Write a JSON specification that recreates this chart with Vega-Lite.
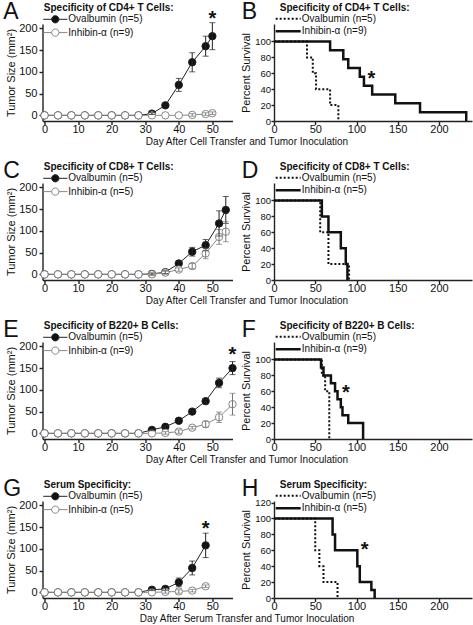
{
"$schema":"https://vega.github.io/schema/vega-lite/v6.json",
"background":"white",
"padding":{"left":2.5,"top":0,"right":0,"bottom":0},
"bounds":"flush",
"columns":2,
"spacing":{"row":62,"column":41.5},
"resolve":{"scale":{"x":"independent","y":"independent","fill":"independent","stroke":"independent","color":"independent","strokeDash":"independent","strokeWidth":"independent"}},
"datasets":{
"tA":[
{"g":"Ovalbumin (n=5)","day":0,"tumor":0},{"g":"Ovalbumin (n=5)","day":4,"tumor":0},{"g":"Ovalbumin (n=5)","day":8,"tumor":0},{"g":"Ovalbumin (n=5)","day":12,"tumor":0},{"g":"Ovalbumin (n=5)","day":16,"tumor":0},{"g":"Ovalbumin (n=5)","day":20,"tumor":0},{"g":"Ovalbumin (n=5)","day":24,"tumor":0},{"g":"Ovalbumin (n=5)","day":28,"tumor":0},
{"g":"Ovalbumin (n=5)","day":32,"tumor":4,"err":2},{"g":"Ovalbumin (n=5)","day":36,"tumor":23,"err":3},{"g":"Ovalbumin (n=5)","day":40,"tumor":70,"err":15},{"g":"Ovalbumin (n=5)","day":44,"tumor":122,"err":22},{"g":"Ovalbumin (n=5)","day":48,"tumor":159,"err":23},{"g":"Ovalbumin (n=5)","day":50,"tumor":182,"err":31},
{"g":"Inhibin-α (n=9)","day":0,"tumor":0},{"g":"Inhibin-α (n=9)","day":4,"tumor":0},{"g":"Inhibin-α (n=9)","day":8,"tumor":0},{"g":"Inhibin-α (n=9)","day":12,"tumor":0},{"g":"Inhibin-α (n=9)","day":16,"tumor":0},{"g":"Inhibin-α (n=9)","day":20,"tumor":0},{"g":"Inhibin-α (n=9)","day":24,"tumor":0},{"g":"Inhibin-α (n=9)","day":28,"tumor":0},{"g":"Inhibin-α (n=9)","day":32,"tumor":0},{"g":"Inhibin-α (n=9)","day":36,"tumor":0},{"g":"Inhibin-α (n=9)","day":40,"tumor":0},
{"g":"Inhibin-α (n=9)","day":44,"tumor":1,"err":3},{"g":"Inhibin-α (n=9)","day":48,"tumor":3,"err":3},{"g":"Inhibin-α (n=9)","day":50,"tumor":5,"err":3}
],
"tC":[
{"g":"Ovalbumin (n=5)","day":0,"tumor":0},{"g":"Ovalbumin (n=5)","day":4,"tumor":0},{"g":"Ovalbumin (n=5)","day":8,"tumor":0},{"g":"Ovalbumin (n=5)","day":12,"tumor":0},{"g":"Ovalbumin (n=5)","day":16,"tumor":0},{"g":"Ovalbumin (n=5)","day":20,"tumor":0},{"g":"Ovalbumin (n=5)","day":24,"tumor":0},{"g":"Ovalbumin (n=5)","day":28,"tumor":0},
{"g":"Ovalbumin (n=5)","day":32,"tumor":1,"err":2},{"g":"Ovalbumin (n=5)","day":36,"tumor":5,"err":3},{"g":"Ovalbumin (n=5)","day":40,"tumor":25,"err":4},{"g":"Ovalbumin (n=5)","day":44,"tumor":52,"err":10},{"g":"Ovalbumin (n=5)","day":48,"tumor":67,"err":13},{"g":"Ovalbumin (n=5)","day":52,"tumor":117,"err":29},{"g":"Ovalbumin (n=5)","day":54,"tumor":148,"err":31},
{"g":"Inhibin-α (n=5)","day":0,"tumor":0},{"g":"Inhibin-α (n=5)","day":4,"tumor":0},{"g":"Inhibin-α (n=5)","day":8,"tumor":0},{"g":"Inhibin-α (n=5)","day":12,"tumor":0},{"g":"Inhibin-α (n=5)","day":16,"tumor":0},{"g":"Inhibin-α (n=5)","day":20,"tumor":0},{"g":"Inhibin-α (n=5)","day":24,"tumor":0},{"g":"Inhibin-α (n=5)","day":28,"tumor":0},
{"g":"Inhibin-α (n=5)","day":32,"tumor":0,"err":3},{"g":"Inhibin-α (n=5)","day":36,"tumor":4,"err":4},{"g":"Inhibin-α (n=5)","day":40,"tumor":11,"err":4},{"g":"Inhibin-α (n=5)","day":44,"tumor":19,"err":6},{"g":"Inhibin-α (n=5)","day":48,"tumor":48,"err":12},{"g":"Inhibin-α (n=5)","day":52,"tumor":86,"err":17},{"g":"Inhibin-α (n=5)","day":54,"tumor":98,"err":23}
],
"tE":[
{"g":"Ovalbumin (n=5)","day":0,"tumor":0},{"g":"Ovalbumin (n=5)","day":4,"tumor":0},{"g":"Ovalbumin (n=5)","day":8,"tumor":0},{"g":"Ovalbumin (n=5)","day":12,"tumor":0},{"g":"Ovalbumin (n=5)","day":16,"tumor":0},{"g":"Ovalbumin (n=5)","day":20,"tumor":0},{"g":"Ovalbumin (n=5)","day":24,"tumor":0},{"g":"Ovalbumin (n=5)","day":28,"tumor":0},
{"g":"Ovalbumin (n=5)","day":32,"tumor":8,"err":2},{"g":"Ovalbumin (n=5)","day":36,"tumor":15,"err":3},{"g":"Ovalbumin (n=5)","day":40,"tumor":29,"err":3},{"g":"Ovalbumin (n=5)","day":44,"tumor":50,"err":3},{"g":"Ovalbumin (n=5)","day":48,"tumor":74,"err":4},{"g":"Ovalbumin (n=5)","day":52,"tumor":116,"err":11},{"g":"Ovalbumin (n=5)","day":56,"tumor":150,"err":15},
{"g":"Inhibin-α (n=9)","day":0,"tumor":0},{"g":"Inhibin-α (n=9)","day":4,"tumor":0},{"g":"Inhibin-α (n=9)","day":8,"tumor":0},{"g":"Inhibin-α (n=9)","day":12,"tumor":0},{"g":"Inhibin-α (n=9)","day":16,"tumor":0},{"g":"Inhibin-α (n=9)","day":20,"tumor":0},{"g":"Inhibin-α (n=9)","day":24,"tumor":0},{"g":"Inhibin-α (n=9)","day":28,"tumor":0},{"g":"Inhibin-α (n=9)","day":32,"tumor":0},
{"g":"Inhibin-α (n=9)","day":36,"tumor":1,"err":3},{"g":"Inhibin-α (n=9)","day":40,"tumor":4,"err":4},{"g":"Inhibin-α (n=9)","day":44,"tumor":13,"err":3},{"g":"Inhibin-α (n=9)","day":48,"tumor":21,"err":7},{"g":"Inhibin-α (n=9)","day":52,"tumor":37,"err":12},{"g":"Inhibin-α (n=9)","day":56,"tumor":67,"err":25}
],
"tG":[
{"g":"Ovalbumin (n=5)","day":0,"tumor":0},{"g":"Ovalbumin (n=5)","day":4,"tumor":0},{"g":"Ovalbumin (n=5)","day":8,"tumor":0},{"g":"Ovalbumin (n=5)","day":12,"tumor":0},{"g":"Ovalbumin (n=5)","day":16,"tumor":0},{"g":"Ovalbumin (n=5)","day":20,"tumor":0},{"g":"Ovalbumin (n=5)","day":24,"tumor":0},{"g":"Ovalbumin (n=5)","day":28,"tumor":0},
{"g":"Ovalbumin (n=5)","day":32,"tumor":6,"err":2},{"g":"Ovalbumin (n=5)","day":36,"tumor":8,"err":3},{"g":"Ovalbumin (n=5)","day":40,"tumor":23,"err":10},{"g":"Ovalbumin (n=5)","day":44,"tumor":56,"err":16},{"g":"Ovalbumin (n=5)","day":48,"tumor":108,"err":28},
{"g":"Inhibin-α (n=5)","day":0,"tumor":0},{"g":"Inhibin-α (n=5)","day":4,"tumor":0},{"g":"Inhibin-α (n=5)","day":8,"tumor":0},{"g":"Inhibin-α (n=5)","day":12,"tumor":0},{"g":"Inhibin-α (n=5)","day":16,"tumor":0},{"g":"Inhibin-α (n=5)","day":20,"tumor":0},{"g":"Inhibin-α (n=5)","day":24,"tumor":0},{"g":"Inhibin-α (n=5)","day":28,"tumor":0},{"g":"Inhibin-α (n=5)","day":32,"tumor":0},
{"g":"Inhibin-α (n=5)","day":36,"tumor":1,"err":3},{"g":"Inhibin-α (n=5)","day":40,"tumor":2,"err":4},{"g":"Inhibin-α (n=5)","day":44,"tumor":4,"err":3},{"g":"Inhibin-α (n=5)","day":48,"tumor":14,"err":3}
],
"kB":[
{"g":"Ovalbumin (n=5)","day":0,"pct":100},{"g":"Ovalbumin (n=5)","day":40,"pct":80},{"g":"Ovalbumin (n=5)","day":47,"pct":60},{"g":"Ovalbumin (n=5)","day":51,"pct":40},{"g":"Ovalbumin (n=5)","day":68,"pct":20},{"g":"Ovalbumin (n=5)","day":78,"pct":0},
{"g":"Inhibin-α (n=9)","day":0,"pct":100},{"g":"Inhibin-α (n=9)","day":68,"pct":88.9},{"g":"Inhibin-α (n=9)","day":84,"pct":77.8},{"g":"Inhibin-α (n=9)","day":90,"pct":66.7},{"g":"Inhibin-α (n=9)","day":104,"pct":55.6},{"g":"Inhibin-α (n=9)","day":109,"pct":44.4},{"g":"Inhibin-α (n=9)","day":119,"pct":33.3},{"g":"Inhibin-α (n=9)","day":147,"pct":22.2},{"g":"Inhibin-α (n=9)","day":177,"pct":11.1},{"g":"Inhibin-α (n=9)","day":233,"pct":0}
],
"kD":[
{"g":"Ovalbumin (n=5)","day":0,"pct":100},{"g":"Ovalbumin (n=5)","day":56,"pct":60},{"g":"Ovalbumin (n=5)","day":66,"pct":20},{"g":"Ovalbumin (n=5)","day":91,"pct":0},
{"g":"Inhibin-α (n=5)","day":0,"pct":100},{"g":"Inhibin-α (n=5)","day":58,"pct":80},{"g":"Inhibin-α (n=5)","day":66,"pct":60},{"g":"Inhibin-α (n=5)","day":81,"pct":40},{"g":"Inhibin-α (n=5)","day":87,"pct":20},{"g":"Inhibin-α (n=5)","day":89,"pct":0}
],
"kF":[
{"g":"Ovalbumin (n=5)","day":0,"pct":100},{"g":"Ovalbumin (n=5)","day":58,"pct":80},{"g":"Ovalbumin (n=5)","day":62,"pct":60},{"g":"Ovalbumin (n=5)","day":67,"pct":0},
{"g":"Inhibin-α (n=9)","day":0,"pct":100},{"g":"Inhibin-α (n=9)","day":57,"pct":90},{"g":"Inhibin-α (n=9)","day":60,"pct":80},{"g":"Inhibin-α (n=9)","day":69,"pct":70},{"g":"Inhibin-α (n=9)","day":74,"pct":60},{"g":"Inhibin-α (n=9)","day":77,"pct":50},{"g":"Inhibin-α (n=9)","day":81,"pct":40},{"g":"Inhibin-α (n=9)","day":83,"pct":30},{"g":"Inhibin-α (n=9)","day":90,"pct":20},{"g":"Inhibin-α (n=9)","day":108,"pct":0}
],
"kH":[
{"g":"Ovalbumin (n=5)","day":0,"pct":100},{"g":"Ovalbumin (n=5)","day":50,"pct":60},{"g":"Ovalbumin (n=5)","day":55,"pct":40},{"g":"Ovalbumin (n=5)","day":60,"pct":20},{"g":"Ovalbumin (n=5)","day":77,"pct":0},
{"g":"Inhibin-α (n=5)","day":0,"pct":100},{"g":"Inhibin-α (n=5)","day":71,"pct":80},{"g":"Inhibin-α (n=5)","day":74,"pct":60},{"g":"Inhibin-α (n=5)","day":101,"pct":40},{"g":"Inhibin-α (n=5)","day":104,"pct":20},{"g":"Inhibin-α (n=5)","day":118,"pct":10},{"g":"Inhibin-α (n=5)","day":122,"pct":0}
],
"sA":[{"day":50,"tumor":229}],
"sB":[{"day":118,"pct":57}],
"sE":[{"day":56,"tumor":188}],
"sF":[{"day":87,"pct":62}],
"sG":[{"day":48,"tumor":152}],
"sH":[{"day":110,"pct":64}]
},
"concat":[
{"width":190,"height":97,
"title":{"text":"A","anchor":"start","frame":"bounds","fontSize":23,"fontWeight":"normal","offset":-20.7,"dx":-2,"color":"#111"},
"data":{"name":"tA"},
"encoding":{
"x":{"field":"day","type":"quantitative","scale":{"domain":[-0.6,56],"nice":false,"zero":false},"axis":{"values":[0,10,20,30,40,50],"labelPadding":-1,"title":"Day After Cell Transfer and Tumor Inoculation","titleX":204,"titleAlign":"center","titlePadding":2,"titleFontSize":10}},
"y":{"field":"tumor","type":"quantitative","scale":{"domain":[-13,210],"nice":false,"zero":false},"axis":{"values":[0,50,100,150,200],"title":"Tumor Size (mm²)","titlePadding":2.5}}},
"layer":[
{"mark":{"type":"line","strokeWidth":1},"encoding":{"stroke":{"field":"g","type":"nominal","scale":{"domain":["Ovalbumin (n=5)","Inhibin-α (n=9)"],"range":["#222","#888"]},"legend":{"title":"Specificity of CD4+ T Cells:","orient":"none","legendX":1.3,"legendY":-20.7,"symbolType":"M-1.2,0L0.34,0M1.66,0L3.2,0M1.66,0A0.66,0.66,0,1,1,0.34,0A0.66,0.66,0,1,1,1.66,0Z","symbolSize":121,"labelOffset":12.5,"rowPadding":1.3,"titlePadding":0}}}},
{"mark":{"type":"point","shape":"circle","filled":true,"size":55,"opacity":1,"strokeWidth":1},"encoding":{"fill":{"field":"g","type":"nominal","scale":{"domain":["Ovalbumin (n=5)","Inhibin-α (n=9)"],"range":["#111","white"]},"legend":{"title":"Specificity of CD4+ T Cells:","orient":"none","legendX":1.3,"legendY":-20.7,"symbolType":"M-1.2,0L0.34,0M1.66,0L3.2,0M1.66,0A0.66,0.66,0,1,1,0.34,0A0.66,0.66,0,1,1,1.66,0Z","symbolSize":121,"labelOffset":12.5,"rowPadding":1.3,"titlePadding":0}},"stroke":{"field":"g","type":"nominal","scale":{"domain":["Ovalbumin (n=5)","Inhibin-α (n=9)"],"range":["#222","#888"]},"legend":{"title":"Specificity of CD4+ T Cells:","orient":"none","legendX":1.3,"legendY":-20.7,"symbolType":"M-1.2,0L0.34,0M1.66,0L3.2,0M1.66,0A0.66,0.66,0,1,1,0.34,0A0.66,0.66,0,1,1,1.66,0Z","symbolSize":121,"labelOffset":12.5,"rowPadding":1.3,"titlePadding":0}}}},
{"transform":[{"filter":"datum.err > 0"}],"mark":{"type":"errorbar","ticks":{"size":6},"thickness":1},"encoding":{"yError":{"field":"err"},"color":{"field":"g","type":"nominal","scale":{"domain":["Ovalbumin (n=5)","Inhibin-α (n=9)"],"range":["#222","#777"]},"legend":null}}},
{"data":{"name":"sA"},"mark":{"type":"text","text":"*","fontSize":20,"fontWeight":"bold","baseline":"middle","dy":3,"color":"#111"}}
]},
{"width":198,"height":97,
"title":{"text":"B","anchor":"start","frame":"bounds","fontSize":23,"fontWeight":"normal","offset":-20.7,"dx":1,"color":"#111"},
"data":{"name":"kB"},
"encoding":{
"x":{"field":"day","type":"quantitative","scale":{"domain":[0,240],"nice":false},"axis":{"values":[0,50,100,150,200],"labelPadding":-1,"title":null}},
"y":{"field":"pct","type":"quantitative","scale":{"domain":[0,122],"nice":false},"axis":{"values":[0,20,40,60,80,100],"title":"Percent Survival","titlePadding":3,"tickSize":3,"labelPadding":0.5,"labelFontSize":9.5}}},
"layer":[
{"mark":{"type":"line","interpolate":"step-after","color":"#111"},"encoding":{"strokeDash":{"field":"g","type":"nominal","scale":{"domain":["Ovalbumin (n=5)","Inhibin-α (n=9)"],"range":[[2,2],[1,0]]},"legend":{"title":"Specificity of CD4+ T Cells:","orient":"none","legendX":5.8,"legendY":-20.7,"symbolType":"M-2.02,0L2.52,0","symbolSize":121,"labelOffset":8,"rowPadding":0,"titlePadding":-1,"symbolStrokeColor":"#111"}},"strokeWidth":{"field":"g","type":"nominal","scale":{"type":"ordinal","domain":["Ovalbumin (n=5)","Inhibin-α (n=9)"],"range":[2,2.5]},"legend":{"title":"Specificity of CD4+ T Cells:","orient":"none","legendX":5.8,"legendY":-20.7,"symbolType":"M-2.02,0L2.52,0","symbolSize":121,"labelOffset":8,"rowPadding":0,"titlePadding":-1,"symbolStrokeColor":"#111"}}}},
{"data":{"name":"sB"},"mark":{"type":"text","text":"*","fontSize":20,"fontWeight":"bold","baseline":"middle","dy":3,"color":"#111"}}
]},
{"width":190,"height":97,
"title":{"text":"C","anchor":"start","frame":"bounds","fontSize":23,"fontWeight":"normal","offset":-20.7,"dx":-2,"color":"#111"},
"data":{"name":"tC"},
"encoding":{
"x":{"field":"day","type":"quantitative","scale":{"domain":[-0.6,56],"nice":false,"zero":false},"axis":{"values":[0,10,20,30,40,50],"labelPadding":-1,"title":"Day After Cell Transfer and Tumor Inoculation","titleX":204,"titleAlign":"center","titlePadding":2,"titleFontSize":10}},
"y":{"field":"tumor","type":"quantitative","scale":{"domain":[-13,210],"nice":false,"zero":false},"axis":{"values":[0,50,100,150,200],"title":"Tumor Size (mm²)","titlePadding":2.5}}},
"layer":[
{"mark":{"type":"line","strokeWidth":1},"encoding":{"stroke":{"field":"g","type":"nominal","scale":{"domain":["Ovalbumin (n=5)","Inhibin-α (n=5)"],"range":["#222","#888"]},"legend":{"title":"Specificity of CD8+ T Cells:","orient":"none","legendX":1.3,"legendY":-20.7,"symbolType":"M-1.2,0L0.34,0M1.66,0L3.2,0M1.66,0A0.66,0.66,0,1,1,0.34,0A0.66,0.66,0,1,1,1.66,0Z","symbolSize":121,"labelOffset":12.5,"rowPadding":1.3,"titlePadding":0}}}},
{"mark":{"type":"point","shape":"circle","filled":true,"size":55,"opacity":1,"strokeWidth":1},"encoding":{"fill":{"field":"g","type":"nominal","scale":{"domain":["Ovalbumin (n=5)","Inhibin-α (n=5)"],"range":["#111","white"]},"legend":{"title":"Specificity of CD8+ T Cells:","orient":"none","legendX":1.3,"legendY":-20.7,"symbolType":"M-1.2,0L0.34,0M1.66,0L3.2,0M1.66,0A0.66,0.66,0,1,1,0.34,0A0.66,0.66,0,1,1,1.66,0Z","symbolSize":121,"labelOffset":12.5,"rowPadding":1.3,"titlePadding":0}},"stroke":{"field":"g","type":"nominal","scale":{"domain":["Ovalbumin (n=5)","Inhibin-α (n=5)"],"range":["#222","#888"]},"legend":{"title":"Specificity of CD8+ T Cells:","orient":"none","legendX":1.3,"legendY":-20.7,"symbolType":"M-1.2,0L0.34,0M1.66,0L3.2,0M1.66,0A0.66,0.66,0,1,1,0.34,0A0.66,0.66,0,1,1,1.66,0Z","symbolSize":121,"labelOffset":12.5,"rowPadding":1.3,"titlePadding":0}}}},
{"transform":[{"filter":"datum.err > 0"}],"mark":{"type":"errorbar","ticks":{"size":6},"thickness":1},"encoding":{"yError":{"field":"err"},"color":{"field":"g","type":"nominal","scale":{"domain":["Ovalbumin (n=5)","Inhibin-α (n=5)"],"range":["#222","#777"]},"legend":null}}}
]},
{"width":198,"height":97,
"title":{"text":"D","anchor":"start","frame":"bounds","fontSize":23,"fontWeight":"normal","offset":-20.7,"dx":1,"color":"#111"},
"data":{"name":"kD"},
"encoding":{
"x":{"field":"day","type":"quantitative","scale":{"domain":[0,240],"nice":false},"axis":{"values":[0,50,100,150,200],"labelPadding":-1,"title":null}},
"y":{"field":"pct","type":"quantitative","scale":{"domain":[0,122],"nice":false},"axis":{"values":[0,20,40,60,80,100],"title":"Percent Survival","titlePadding":3,"tickSize":3,"labelPadding":0.5,"labelFontSize":9.5}}},
"layer":[
{"mark":{"type":"line","interpolate":"step-after","color":"#111"},"encoding":{"strokeDash":{"field":"g","type":"nominal","scale":{"domain":["Ovalbumin (n=5)","Inhibin-α (n=5)"],"range":[[2,2],[1,0]]},"legend":{"title":"Specificity of CD8+ T Cells:","orient":"none","legendX":5.8,"legendY":-20.7,"symbolType":"M-2.02,0L2.52,0","symbolSize":121,"labelOffset":8,"rowPadding":0,"titlePadding":-1,"symbolStrokeColor":"#111"}},"strokeWidth":{"field":"g","type":"nominal","scale":{"type":"ordinal","domain":["Ovalbumin (n=5)","Inhibin-α (n=5)"],"range":[2,2.5]},"legend":{"title":"Specificity of CD8+ T Cells:","orient":"none","legendX":5.8,"legendY":-20.7,"symbolType":"M-2.02,0L2.52,0","symbolSize":121,"labelOffset":8,"rowPadding":0,"titlePadding":-1,"symbolStrokeColor":"#111"}}}}
]},
{"width":190,"height":97,
"title":{"text":"E","anchor":"start","frame":"bounds","fontSize":23,"fontWeight":"normal","offset":-20.7,"dx":-2,"color":"#111"},
"data":{"name":"tE"},
"encoding":{
"x":{"field":"day","type":"quantitative","scale":{"domain":[-0.6,56],"nice":false,"zero":false},"axis":{"values":[0,10,20,30,40,50],"labelPadding":-1,"title":"Day After Cell Transfer and Tumor Inoculation","titleX":204,"titleAlign":"center","titlePadding":2,"titleFontSize":10}},
"y":{"field":"tumor","type":"quantitative","scale":{"domain":[-13,210],"nice":false,"zero":false},"axis":{"values":[0,50,100,150,200],"title":"Tumor Size (mm²)","titlePadding":2.5}}},
"layer":[
{"mark":{"type":"line","strokeWidth":1},"encoding":{"stroke":{"field":"g","type":"nominal","scale":{"domain":["Ovalbumin (n=5)","Inhibin-α (n=9)"],"range":["#222","#888"]},"legend":{"title":"Specificity of B220+ B Cells:","orient":"none","legendX":1.3,"legendY":-20.7,"symbolType":"M-1.2,0L0.34,0M1.66,0L3.2,0M1.66,0A0.66,0.66,0,1,1,0.34,0A0.66,0.66,0,1,1,1.66,0Z","symbolSize":121,"labelOffset":12.5,"rowPadding":1.3,"titlePadding":0}}}},
{"mark":{"type":"point","shape":"circle","filled":true,"size":55,"opacity":1,"strokeWidth":1},"encoding":{"fill":{"field":"g","type":"nominal","scale":{"domain":["Ovalbumin (n=5)","Inhibin-α (n=9)"],"range":["#111","white"]},"legend":{"title":"Specificity of B220+ B Cells:","orient":"none","legendX":1.3,"legendY":-20.7,"symbolType":"M-1.2,0L0.34,0M1.66,0L3.2,0M1.66,0A0.66,0.66,0,1,1,0.34,0A0.66,0.66,0,1,1,1.66,0Z","symbolSize":121,"labelOffset":12.5,"rowPadding":1.3,"titlePadding":0}},"stroke":{"field":"g","type":"nominal","scale":{"domain":["Ovalbumin (n=5)","Inhibin-α (n=9)"],"range":["#222","#888"]},"legend":{"title":"Specificity of B220+ B Cells:","orient":"none","legendX":1.3,"legendY":-20.7,"symbolType":"M-1.2,0L0.34,0M1.66,0L3.2,0M1.66,0A0.66,0.66,0,1,1,0.34,0A0.66,0.66,0,1,1,1.66,0Z","symbolSize":121,"labelOffset":12.5,"rowPadding":1.3,"titlePadding":0}}}},
{"transform":[{"filter":"datum.err > 0"}],"mark":{"type":"errorbar","ticks":{"size":6},"thickness":1},"encoding":{"yError":{"field":"err"},"color":{"field":"g","type":"nominal","scale":{"domain":["Ovalbumin (n=5)","Inhibin-α (n=9)"],"range":["#222","#777"]},"legend":null}}},
{"data":{"name":"sE"},"mark":{"type":"text","text":"*","fontSize":20,"fontWeight":"bold","baseline":"middle","dy":3,"color":"#111"}}
]},
{"width":198,"height":97,
"title":{"text":"F","anchor":"start","frame":"bounds","fontSize":23,"fontWeight":"normal","offset":-20.7,"dx":1,"color":"#111"},
"data":{"name":"kF"},
"encoding":{
"x":{"field":"day","type":"quantitative","scale":{"domain":[0,240],"nice":false},"axis":{"values":[0,50,100,150,200],"labelPadding":-1,"title":null}},
"y":{"field":"pct","type":"quantitative","scale":{"domain":[0,122],"nice":false},"axis":{"values":[0,20,40,60,80,100],"title":"Percent Survival","titlePadding":3,"tickSize":3,"labelPadding":0.5,"labelFontSize":9.5}}},
"layer":[
{"mark":{"type":"line","interpolate":"step-after","color":"#111"},"encoding":{"strokeDash":{"field":"g","type":"nominal","scale":{"domain":["Ovalbumin (n=5)","Inhibin-α (n=9)"],"range":[[2,2],[1,0]]},"legend":{"title":"Specificity of B220+ B Cells:","orient":"none","legendX":5.8,"legendY":-20.7,"symbolType":"M-2.02,0L2.52,0","symbolSize":121,"labelOffset":8,"rowPadding":0,"titlePadding":-1,"symbolStrokeColor":"#111"}},"strokeWidth":{"field":"g","type":"nominal","scale":{"type":"ordinal","domain":["Ovalbumin (n=5)","Inhibin-α (n=9)"],"range":[2,2.5]},"legend":{"title":"Specificity of B220+ B Cells:","orient":"none","legendX":5.8,"legendY":-20.7,"symbolType":"M-2.02,0L2.52,0","symbolSize":121,"labelOffset":8,"rowPadding":0,"titlePadding":-1,"symbolStrokeColor":"#111"}}}},
{"data":{"name":"sF"},"mark":{"type":"text","text":"*","fontSize":20,"fontWeight":"bold","baseline":"middle","dy":3,"color":"#111"}}
]},
{"width":190,"height":97,
"title":{"text":"G","anchor":"start","frame":"bounds","fontSize":23,"fontWeight":"normal","offset":-20.7,"dx":-2,"color":"#111"},
"data":{"name":"tG"},
"encoding":{
"x":{"field":"day","type":"quantitative","scale":{"domain":[-0.6,56],"nice":false,"zero":false},"axis":{"values":[0,10,20,30,40,50],"labelPadding":-1,"title":"Day After Serum Transfer and Tumor Inoculation","titleX":204,"titleAlign":"center","titlePadding":2,"titleFontSize":10}},
"y":{"field":"tumor","type":"quantitative","scale":{"domain":[-13,210],"nice":false,"zero":false},"axis":{"values":[0,50,100,150,200],"title":"Tumor Size (mm²)","titlePadding":2.5}}},
"layer":[
{"mark":{"type":"line","strokeWidth":1},"encoding":{"stroke":{"field":"g","type":"nominal","scale":{"domain":["Ovalbumin (n=5)","Inhibin-α (n=5)"],"range":["#222","#888"]},"legend":{"title":"Serum Specificity:","orient":"none","legendX":1.3,"legendY":-20.7,"symbolType":"M-1.2,0L0.34,0M1.66,0L3.2,0M1.66,0A0.66,0.66,0,1,1,0.34,0A0.66,0.66,0,1,1,1.66,0Z","symbolSize":121,"labelOffset":12.5,"rowPadding":1.3,"titlePadding":0}}}},
{"mark":{"type":"point","shape":"circle","filled":true,"size":55,"opacity":1,"strokeWidth":1},"encoding":{"fill":{"field":"g","type":"nominal","scale":{"domain":["Ovalbumin (n=5)","Inhibin-α (n=5)"],"range":["#111","white"]},"legend":{"title":"Serum Specificity:","orient":"none","legendX":1.3,"legendY":-20.7,"symbolType":"M-1.2,0L0.34,0M1.66,0L3.2,0M1.66,0A0.66,0.66,0,1,1,0.34,0A0.66,0.66,0,1,1,1.66,0Z","symbolSize":121,"labelOffset":12.5,"rowPadding":1.3,"titlePadding":0}},"stroke":{"field":"g","type":"nominal","scale":{"domain":["Ovalbumin (n=5)","Inhibin-α (n=5)"],"range":["#222","#888"]},"legend":{"title":"Serum Specificity:","orient":"none","legendX":1.3,"legendY":-20.7,"symbolType":"M-1.2,0L0.34,0M1.66,0L3.2,0M1.66,0A0.66,0.66,0,1,1,0.34,0A0.66,0.66,0,1,1,1.66,0Z","symbolSize":121,"labelOffset":12.5,"rowPadding":1.3,"titlePadding":0}}}},
{"transform":[{"filter":"datum.err > 0"}],"mark":{"type":"errorbar","ticks":{"size":6},"thickness":1},"encoding":{"yError":{"field":"err"},"color":{"field":"g","type":"nominal","scale":{"domain":["Ovalbumin (n=5)","Inhibin-α (n=5)"],"range":["#222","#777"]},"legend":null}}},
{"data":{"name":"sG"},"mark":{"type":"text","text":"*","fontSize":20,"fontWeight":"bold","baseline":"middle","dy":3,"color":"#111"}}
]},
{"width":198,"height":97,
"title":{"text":"H","anchor":"start","frame":"bounds","fontSize":23,"fontWeight":"normal","offset":-20.7,"dx":1,"color":"#111"},
"data":{"name":"kH"},
"encoding":{
"x":{"field":"day","type":"quantitative","scale":{"domain":[0,240],"nice":false},"axis":{"values":[0,50,100,150,200],"labelPadding":-1,"title":null}},
"y":{"field":"pct","type":"quantitative","scale":{"domain":[0,122],"nice":false},"axis":{"values":[0,20,40,60,80,100,120],"title":"Percent Survival","titlePadding":3,"tickSize":3,"labelPadding":0.5,"labelFontSize":9.5}}},
"layer":[
{"mark":{"type":"line","interpolate":"step-after","color":"#111"},"encoding":{"strokeDash":{"field":"g","type":"nominal","scale":{"domain":["Ovalbumin (n=5)","Inhibin-α (n=5)"],"range":[[2,2],[1,0]]},"legend":{"title":"Serum Specificity:","orient":"none","legendX":5.8,"legendY":-20.7,"symbolType":"M-2.02,0L2.52,0","symbolSize":121,"labelOffset":8,"rowPadding":0,"titlePadding":-1,"symbolStrokeColor":"#111"}},"strokeWidth":{"field":"g","type":"nominal","scale":{"type":"ordinal","domain":["Ovalbumin (n=5)","Inhibin-α (n=5)"],"range":[2,2.5]},"legend":{"title":"Serum Specificity:","orient":"none","legendX":5.8,"legendY":-20.7,"symbolType":"M-2.02,0L2.52,0","symbolSize":121,"labelOffset":8,"rowPadding":0,"titlePadding":-1,"symbolStrokeColor":"#111"}}}},
{"data":{"name":"sH"},"mark":{"type":"text","text":"*","fontSize":20,"fontWeight":"bold","baseline":"middle","dy":3,"color":"#111"}}
]}
],
"config":{
"font":"Liberation Sans",
"view":{"stroke":null},
"axis":{"domainColor":"#222","domainWidth":1.4,"tickColor":"#222","tickWidth":1.4,"tickSize":3.5,"labelFont":"Liberation Sans","labelFontSize":11,"labelColor":"#111","labelPadding":2,"titleFont":"Liberation Sans","titleFontSize":11,"titleFontWeight":"normal","titleColor":"#111","grid":false,"labelFlush":false,"labelOverlap":false},
"legend":{"padding":0,"titleFont":"Liberation Sans","titleFontSize":10,"titleFontWeight":"bold","titleColor":"#111","labelFont":"Liberation Sans","labelFontSize":10,"labelColor":"#111","titleLimit":400,"labelLimit":400,"symbolStrokeWidth":1,"symbolOpacity":1},
"title":{"font":"Liberation Sans","color":"#111"}
}
}
